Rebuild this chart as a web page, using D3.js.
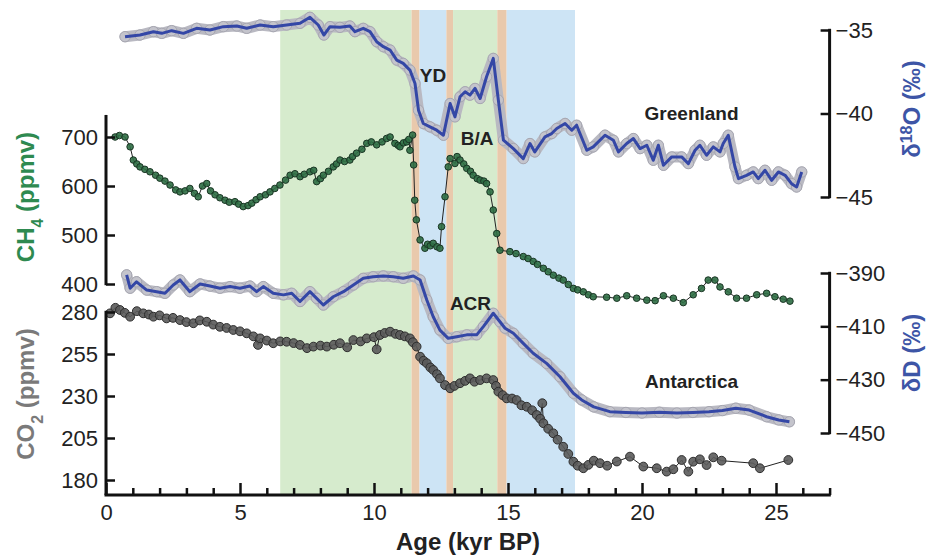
<!DOCTYPE html>
<meta charset="utf-8">
<script src="https://d3js.org/d3.v7.min.js"></script>
<style>
  body { margin: 0; background: #fff; }
  text { font-family: "Liberation Sans", Arial, Helvetica, sans-serif; }
</style>
<div id="chart"></div>
<script>
// Climate intervals shaded behind the records (kyr BP)
const bandStart = [6.5, 11.4, 11.7, 12.7, 12.95, 14.6, 14.95];
const bandEnd   = [11.4, 11.7, 12.7, 12.95, 14.6, 14.95, 17.5];
const bandKind  = ["warm", "trans", "cold", "trans", "warm", "trans", "cold"];

// Greenland d18O (permil)
const greenAge = [0.71,1.27,1.77,2.08,2.45,2.89,3.38,3.88,4.38,4.88,
  5.25,5.75,6.24,6.74,7.24,7.61,7.92,8.13,8.36,8.73,
  9.10,9.29,9.60,9.85,10.10,10.35,10.60,10.85,11.09,11.34,
  11.53,11.66,11.84,12.09,12.34,12.59,12.84,13.02,13.21,13.40,
  13.58,13.77,13.96,14.20,14.45,14.64,14.83,15.20,15.57,15.82,
  16.00,16.38,16.63,16.82,17.13,17.38,17.56,17.94,18.18,18.62,
  18.93,19.12,19.43,19.68,19.93,20.18,20.42,20.61,20.80,21.11,
  21.48,21.73,21.98,22.16,22.41,22.66,22.91,23.03,23.22,23.47,
  23.60,23.90,24.15,24.34,24.59,24.84,25.09,25.34,25.58,25.77,
  25.96];
const greenD18O = [-35.4,-35.3,-35.1,-35.2,-35.04,-35.2,-34.9,-35.0,-34.8,-34.76,
  -34.9,-34.7,-34.8,-34.7,-34.6,-34.24,-34.7,-35.3,-34.8,-34.84,
  -34.76,-35.1,-34.9,-35.1,-35.7,-36.0,-36.2,-36.8,-37.0,-37.4,
  -38.2,-39.8,-40.6,-40.8,-41.0,-41.3,-39.4,-40.2,-39.0,-38.7,
  -38.9,-38.5,-39.1,-37.8,-36.7,-39.2,-41.6,-42.1,-42.7,-41.8,
  -42.3,-41.4,-41.2,-40.9,-40.6,-41.0,-40.7,-42.2,-42.0,-41.3,
  -41.6,-42.3,-41.8,-41.5,-42.1,-41.9,-42.8,-41.9,-43.1,-42.6,
  -42.6,-43.0,-42.2,-41.9,-42.5,-42.0,-42.3,-41.8,-41.3,-43.2,
  -43.9,-43.7,-43.5,-43.9,-43.4,-44.0,-43.5,-43.7,-44.2,-44.4,
  -43.5];

// CH4 (ppmv)
const ch4Age = [0.34,0.50,0.71,0.90,1.02,1.15,1.27,1.45,1.64,1.85,
  2.01,2.20,2.39,2.60,2.76,2.95,3.13,3.30,3.44,3.60,
  3.76,3.90,4.07,4.25,4.44,4.60,4.81,4.95,5.12,5.30,
  5.44,5.60,5.75,5.95,6.12,6.30,6.49,6.70,6.87,7.05,
  7.24,7.40,7.61,7.75,7.86,8.00,8.11,8.30,8.48,8.60,
  8.73,8.90,9.10,9.20,9.35,9.55,9.73,9.90,10.10,10.30,
  10.47,10.60,10.78,10.90,10.97,11.10,11.22,11.30,11.34,11.44,
  11.48,11.52,11.58,11.72,11.90,12.00,12.10,12.21,12.35,12.46,
  12.52,12.65,12.77,12.84,13.02,13.10,13.21,13.35,13.46,13.60,
  13.70,13.85,13.96,14.10,14.20,14.33,14.45,14.58,14.70,15.07,
  15.30,15.57,15.75,15.94,16.10,16.32,16.50,16.69,16.90,17.06,
  17.25,17.44,17.60,17.81,18.00,18.18,18.68,19.06,19.43,19.80,
  20.18,20.49,20.80,21.17,21.54,21.91,22.22,22.47,22.72,22.91,
  23.22,23.53,23.90,24.28,24.65,24.96,25.27,25.52];
const ch4Val = [700,703,700,680,653,645,639,634,629,622,
  616,610,602,592,588,590,595,585,578,600,
  605,590,582,576,571,567,568,563,558,560,
  565,572,578,582,588,595,602,612,622,625,
  619,624,629,632,609,615,622,630,639,645,
  653,650,653,660,667,675,687,690,684,690,
  697,700,687,683,680,688,690,695,673,704,
  643,571,531,490,473,481,478,483,476,473,
  517,578,639,656,646,660,653,645,636,630,
  622,615,612,610,605,588,551,503,469,466,
  462,456,452,446,440,432,425,418,412,408,
  399,391,388,384,378,374,373,371,376,371,
  367,366,376,371,362,378,391,408,408,394,
  384,371,371,378,381,374,369,365];

// Antarctic dD (permil)
const antAge = [0.77,0.90,1.14,1.52,1.89,2.20,2.51,2.76,3.13,3.51,
  3.88,4.25,4.63,5.00,5.37,5.62,5.87,6.24,6.62,6.93,
  7.24,7.61,7.86,8.11,8.48,8.86,9.23,9.60,9.97,10.35,
  10.72,11.09,11.47,11.72,11.97,12.21,12.46,12.77,13.09,13.46,
  13.83,14.08,14.45,14.70,14.89,15.20,15.57,15.94,16.44,16.94,
  17.44,17.75,18.20,18.80,19.40,20.00,20.65,21.30,21.90,22.50,
  23.00,23.50,24.00,24.65,25.10,25.50];
const antDD = [-390.7,-395.7,-393.3,-396.4,-397.0,-397.6,-394.5,-392.6,-397.0,-394.1,
  -394.9,-395.7,-395.1,-395.7,-394.9,-397.0,-395.1,-397.6,-398.2,-397.6,
  -400.7,-397.0,-399.5,-402.0,-398.9,-397.0,-394.5,-392.0,-391.4,-391.1,
  -391.4,-392.0,-391.1,-392.6,-400.1,-406.4,-411.4,-414.5,-413.9,-413.2,
  -413.2,-410.1,-405.1,-408.3,-410.7,-412.6,-416.4,-420.1,-423.9,-428.9,
  -435.1,-437.6,-440.2,-442.0,-442.3,-442.5,-442.2,-442.5,-442.3,-442.0,
  -441.6,-440.7,-441.4,-443.9,-445.1,-445.8];

// CO2 (ppmv)
const co2Age = [0.15,0.35,0.52,0.70,0.90,1.15,1.39,1.60,1.77,2.00,
  2.26,2.50,2.76,3.00,3.26,3.50,3.76,4.00,4.25,4.50,
  4.75,5.00,5.25,5.50,5.67,5.75,6.00,6.24,6.50,6.74,
  7.00,7.24,7.50,7.74,8.00,8.24,8.50,8.73,9.00,9.23,
  9.50,9.73,10.00,10.10,10.22,10.40,10.60,10.80,10.97,11.15,
  11.34,11.45,11.59,11.72,11.85,11.97,12.10,12.21,12.35,12.46,
  12.65,12.84,13.00,13.21,13.40,13.58,13.75,13.96,14.20,14.45,
  14.55,14.64,14.80,14.95,15.15,15.32,15.50,15.70,15.90,16.07,
  16.20,16.28,16.32,16.50,16.69,16.85,17.06,17.25,17.44,17.60,
  17.81,18.00,18.20,18.43,18.70,19.06,19.55,20.05,20.55,20.92,
  21.17,21.48,21.73,21.91,22.16,22.41,22.66,22.97,24.15,24.40,
  25.46];
const co2Val = [279.2,282.5,281.2,279.5,277.2,280.5,279.2,278.5,277.2,278.0,
  276.2,276.5,275.2,274.0,273.3,275.0,274.2,272.5,271.2,270.5,
  269.3,268.5,267.3,265.5,260.4,264.3,263.0,261.4,262.5,262.3,
  261.5,260.4,258.5,259.4,260.0,259.4,260.5,261.4,259.0,263.3,
  262.5,264.3,265.0,257.8,266.3,267.5,268.3,267.0,266.3,265.5,
  264.3,262.0,259.4,253.4,251.0,249.5,247.0,245.5,243.0,240.5,
  236.5,234.6,236.0,237.6,239.0,240.5,238.5,239.5,240.5,239.5,
  236.0,232.6,230.5,228.6,228.5,227.6,224.5,223.6,221.5,218.7,
  216.5,225.7,213.8,210.5,207.8,204.0,199.8,195.5,190.9,188.5,
  187.0,189.0,191.5,190.0,188.5,191.0,193.9,188.0,187.0,185.0,
  186.4,191.9,185.0,190.9,192.3,188.9,193.5,191.5,190.0,187.0,
  191.9];

// Tick values
const xMajor = [0, 5, 10, 15, 20, 25];
const ch4Ticks = [400, 500, 600, 700];
const co2Ticks = [180, 205, 230, 255, 280];
const d18OTicks = [-45, -40, -35];
const dDTicks = [-450, -430, -410, -390];

const width = 930, height = 557;
const svg = d3.select("#chart").append("svg")
  .attr("width", width).attr("height", height);

const x = d3.scaleLinear().domain([0, 27]).range([106, 829.6]);
const yO = d3.scaleLinear().domain([-45, -35]).range([197, 30]);
const yCH4 = d3.scaleLinear().domain([400, 700]).range([284, 137]);
const yD = d3.scaleLinear().domain([-450, -390]).range([433, 273]);
const yCO2 = d3.scaleLinear().domain([180, 280]).range([480, 312]);
const axisY = 495;

const bandColor = { warm: "#d6ebcd", cold: "#cde4f5", trans: "#e9c9ac" };

// background bands
svg.append("g").selectAll("rect")
  .data(bandStart.map((s, i) => ({ s: s, e: bandEnd[i], k: bandKind[i] })))
  .join("rect")
    .attr("x", d => x(d.s))
    .attr("width", d => x(d.e) - x(d.s))
    .attr("y", 10)
    .attr("height", axisY - 10)
    .attr("fill", d => bandColor[d.k]);

// isotope record: gray halo + blue line
function isotope(ages, vals, y) {
  const pts = ages.map((a, i) => [x(a), y(vals[i])]);
  const line = d3.line();
  const g = svg.append("g");
  g.append("path").attr("d", line(pts))
    .attr("fill", "none").attr("stroke", "#b9b9c2")
    .attr("stroke-width", 11).attr("stroke-linejoin", "round").attr("stroke-linecap", "round");
  g.selectAll("circle").data(pts).join("circle")
    .attr("cx", d => d[0]).attr("cy", d => d[1]).attr("r", 5.2)
    .attr("fill", "#c4c4cc").attr("stroke", "#a6a6b0").attr("stroke-width", 1);
  g.append("path").attr("d", line(pts))
    .attr("fill", "none").attr("stroke", "#3447a6")
    .attr("stroke-width", 3).attr("stroke-linejoin", "round");
}

// gas record: thin black line + dots
function gas(ages, vals, y, fill, stroke, r) {
  const pts = ages.map((a, i) => [x(a), y(vals[i])]);
  const g = svg.append("g");
  g.append("path").attr("d", d3.line()(pts))
    .attr("fill", "none").attr("stroke", "#222").attr("stroke-width", 1);
  g.selectAll("circle").data(pts).join("circle")
    .attr("cx", d => d[0]).attr("cy", d => d[1]).attr("r", r)
    .attr("fill", fill).attr("stroke", stroke).attr("stroke-width", 1)
    .attr("fill-opacity", 0.9);
}

isotope(greenAge, greenD18O, yO);
gas(ch4Age, ch4Val, yCH4, "#2d6e44", "#1a3524", 3.3);
isotope(antAge, antDD, yD);
gas(co2Age, co2Val, yCO2, "#5a5a5a", "#2e2e2e", 4.4);

// axes
const tickFont = g => g.selectAll("text").style("font-size", "22px").attr("fill", "#222");
const axLine = g => { g.select(".domain").remove(); g.selectAll("line").attr("stroke", "#111").attr("stroke-width", 2.5); };

// x axis
svg.append("g").attr("transform", `translate(0,${axisY})`)
  .call(d3.axisBottom(x).tickValues(d3.range(1, 28).filter(v => v % 5)).tickSizeInner(-7).tickSizeOuter(0).tickFormat(""))
  .call(axLine);
svg.append("g").attr("transform", `translate(0,${axisY})`)
  .call(d3.axisBottom(x).tickValues(xMajor).tickSizeInner(-12).tickSizeOuter(0).tickPadding(9))
  .call(axLine).call(tickFont);
svg.append("line").attr("x1", x(0) - 1.5).attr("x2", x(27) + 1.2)
  .attr("y1", axisY).attr("y2", axisY).attr("stroke", "#111").attr("stroke-width", 3);

// left CH4
svg.append("g").attr("transform", `translate(${x(0)},0)`)
  .call(d3.axisLeft(yCH4).tickValues(ch4Ticks).tickSizeInner(-9).tickSizeOuter(0).tickPadding(8))
  .call(axLine).call(tickFont);
svg.append("line").attr("x1", x(0)).attr("x2", x(0))
  .attr("y1", yCH4(745)).attr("y2", yCH4(400) + 1.2).attr("stroke", "#111").attr("stroke-width", 3);

// left CO2
svg.append("g").attr("transform", `translate(${x(0)},0)`)
  .call(d3.axisLeft(yCO2).tickValues(co2Ticks).tickSizeInner(-9).tickSizeOuter(0).tickPadding(8))
  .call(axLine).call(tickFont);
svg.append("line").attr("x1", x(0)).attr("x2", x(0))
  .attr("y1", yCO2(280) - 1.2).attr("y2", axisY).attr("stroke", "#111").attr("stroke-width", 3);

// right d18O
svg.append("g").attr("transform", `translate(${x(27)},0)`)
  .call(d3.axisRight(yO).tickValues(d18OTicks).tickSizeInner(-9).tickSizeOuter(0).tickPadding(6))
  .call(axLine).call(tickFont);
svg.append("line").attr("x1", x(27)).attr("x2", x(27))
  .attr("y1", yO(-35) - 1.2).attr("y2", yO(-45) + 1.2).attr("stroke", "#111").attr("stroke-width", 3);

// right dD
svg.append("g").attr("transform", `translate(${x(27)},0)`)
  .call(d3.axisRight(yD).tickValues(dDTicks).tickSizeInner(-9).tickSizeOuter(0).tickPadding(6))
  .call(axLine).call(tickFont);
svg.append("line").attr("x1", x(27)).attr("x2", x(27))
  .attr("y1", yD(-390) - 1.2).attr("y2", yD(-450) + 1.2).attr("stroke", "#111").attr("stroke-width", 3);

// axis titles
svg.append("text").attr("x", 468).attr("y", 550).attr("text-anchor", "middle")
  .style("font-size", "24px").style("font-weight", "bold").attr("fill", "#222")
  .text("Age (kyr BP)");

function vTitle(cx, cy, color, parts) {
  const t = svg.append("text")
    .attr("transform", `translate(${cx},${cy}) rotate(-90)`)
    .attr("text-anchor", "middle").attr("fill", color)
    .style("font-size", "24px").style("font-weight", "bold");
  parts.forEach(p => {
    const s = t.append("tspan").text(p[0]);
    if (p[1] === "sub") s.style("font-size", "16px").attr("baseline-shift", "sub");
    if (p[1] === "sup") s.style("font-size", "16px").attr("baseline-shift", "super");
  });
}
vTitle(34, 197, "#2e8a50", [["CH"], ["4", "sub"], [" (ppmv)"]]);
vTitle(34, 394, "#7a7a7a", [["CO"], ["2", "sub"], [" (ppmv)"]]);
vTitle(920, 109, "#3d55a6", [["\u03b4"], ["18", "sup"], ["O  (\u2030)"]]);
vTitle(920, 353, "#3d55a6", [["\u03b4D  (\u2030)"]]);

// annotations
const noteText = ["YD", "B/A", "ACR", "Greenland", "Antarctica"];
const noteAge  = [12.2, 13.85, 13.6, 21.85, 21.85];
const noteAxis = [yO, yO, yD, yO, yD];
const noteVal  = [-37.7, -41.5, -401.5, -40.0, -430.5];
svg.append("g").selectAll("text")
  .data(noteText.map((t, i) => ({ t: t, px: x(noteAge[i]), py: noteAxis[i](noteVal[i]) })))
  .join("text")
    .attr("x", d => d.px).attr("y", d => d.py)
    .attr("text-anchor", "middle").attr("dy", "0.35em")
    .style("font-size", "19px").style("font-weight", "bold").attr("fill", "#222")
    .text(d => d.t);
</script>
